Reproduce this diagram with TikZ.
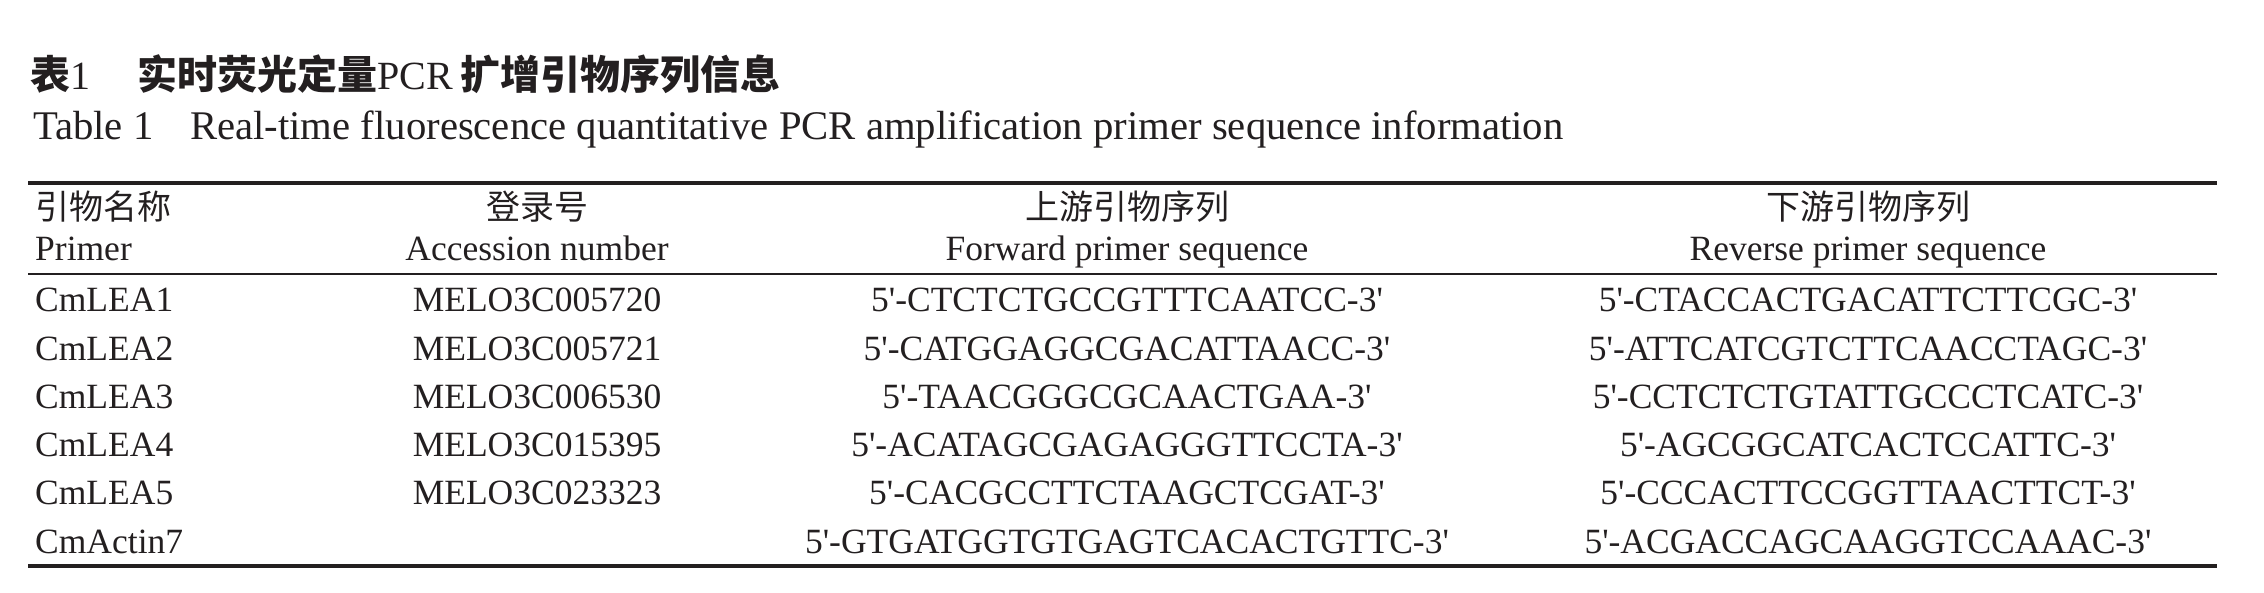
\documentclass[tikz,border=0pt]{standalone}
\usepackage{fontspec}
\setmainfont{Liberation Serif}[Ligatures=TeXOff]
\newfontfamily\cjk{Noto Sans CJK SC}
\definecolor{ink}{RGB}{35,31,32}
\begin{document}
\begin{tikzpicture}[x=1pt,y=-1pt,
  cell/.style={inner sep=0pt, anchor=base, text=ink, font=\fontsize{35.5}{40}\selectfont},
  lcell/.style={cell, anchor=base west},
  hzh/.style={cell, font=\fontsize{34}{40}\selectfont\cjk},
  lhzh/.style={hzh, anchor=base west},
  captionfont/.style={lcell, font=\fontsize{40.7}{44}\selectfont},
  titlefont/.style={lcell, font=\fontsize{40}{44}\selectfont},
  rulethick/.style={draw=ink, line width=3.2pt},
  rulethin/.style={draw=ink, line width=2pt}]
\useasboundingbox[fill=white] (0,0) rectangle (2264,593);
% title
\node[titlefont] (t1) at (30,90) {{\cjk\bfseries 表}1};
\node[titlefont] (t2) at (137,90) {{\cjk\bfseries 实时荧光定量}PCR\hspace{8pt}{\cjk\bfseries 扩增引物序列信息}};
\node[captionfont] (c1) at (33,140) {Table 1};
\node[captionfont] (c2) at (190,140) {Real-time fluorescence quantitative PCR amplification primer sequence information};
% rules
\coordinate (tl) at (28,183); \coordinate (tr) at (2217,183);
\coordinate (ml) at (28,274); \coordinate (mr) at (2217,274);
\coordinate (bl) at (28,566); \coordinate (br) at (2217,566);
\draw[rulethick] (tl) -- (tr);
\draw[rulethin] (ml) -- (mr);
\draw[rulethick] (bl) -- (br);
% header
\node[lhzh] (h1) at (35,220) {引物名称};
\node[hzh] (h2) at (537,220) {登录号};
\node[hzh] (h3) at (1127,220) {上游引物序列};
\node[hzh] (h4) at (1868,220) {下游引物序列};
\node[lcell] (e1) at (35,261) {Primer};
\node[cell] (e2) at (537,261) {Accession number};
\node[cell] (e3) at (1127,261) {Forward primer sequence};
\node[cell] (e4) at (1868,261) {Reverse primer sequence};
% body
\node[lcell] (r1a) at (35,312) {CmLEA1};
\node[cell] (r1b) at (537,312) {MELO3C005720};
\node[cell] (r1c) at (1127,312) {5'-CTCTCTGCCGTTTCAATCC-3'};
\node[cell] (r1d) at (1868,312) {5'-CTACCACTGACATTCTTCGC-3'};
\node[lcell] (r2a) at (35,360.2) {CmLEA2};
\node[cell] (r2b) at (537,360.2) {MELO3C005721};
\node[cell] (r2c) at (1127,360.2) {5'-CATGGAGGCGACATTAACC-3'};
\node[cell] (r2d) at (1868,360.2) {5'-ATTCATCGTCTTCAACCTAGC-3'};
\node[lcell] (r3a) at (35,408.4) {CmLEA3};
\node[cell] (r3b) at (537,408.4) {MELO3C006530};
\node[cell] (r3c) at (1127,408.4) {5'-TAACGGGCGCAACTGAA-3'};
\node[cell] (r3d) at (1868,408.4) {5'-CCTCTCTGTATTGCCCTCATC-3'};
\node[lcell] (r4a) at (35,456.6) {CmLEA4};
\node[cell] (r4b) at (537,456.6) {MELO3C015395};
\node[cell] (r4c) at (1127,456.6) {5'-ACATAGCGAGAGGGTTCCTA-3'};
\node[cell] (r4d) at (1868,456.6) {5'-AGCGGCATCACTCCATTC-3'};
\node[lcell] (r5a) at (35,504.8) {CmLEA5};
\node[cell] (r5b) at (537,504.8) {MELO3C023323};
\node[cell] (r5c) at (1127,504.8) {5'-CACGCCTTCTAAGCTCGAT-3'};
\node[cell] (r5d) at (1868,504.8) {5'-CCCACTTCCGGTTAACTTCT-3'};
\node[lcell] (r6a) at (35,553) {CmActin7};
\node[cell] (r6c) at (1127,553) {5'-GTGATGGTGTGAGTCACACTGTTC-3'};
\node[cell] (r6d) at (1868,553) {5'-ACGACCAGCAAGGTCCAAAC-3'};
\end{tikzpicture}
\end{document}
